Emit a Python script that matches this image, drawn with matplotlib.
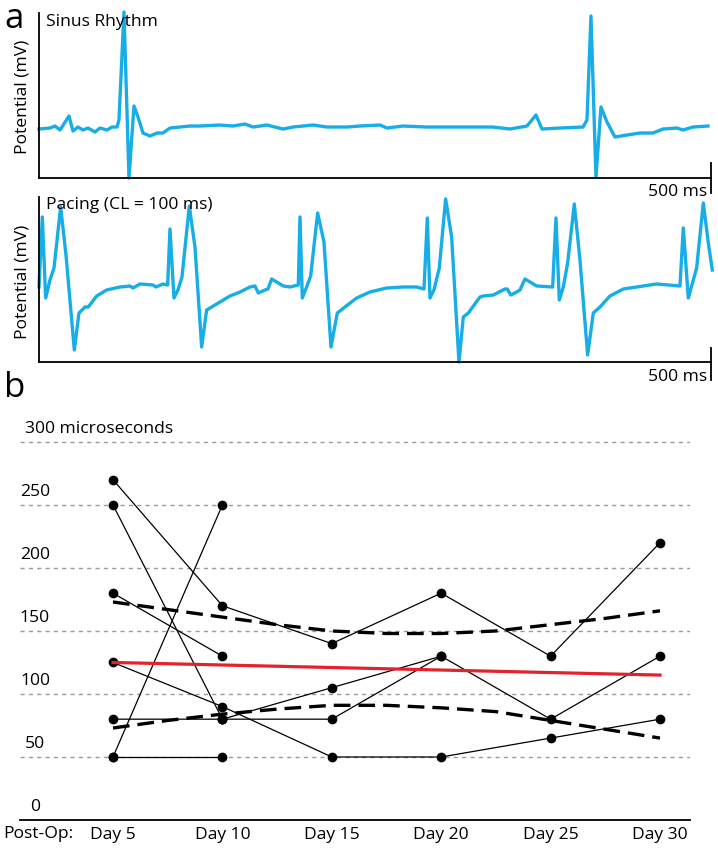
import matplotlib
matplotlib.use("Agg")
import matplotlib.pyplot as plt
import matplotlib.transforms as mtransforms

plt.rcParams['font.family'] = ['Open Sans', 'DejaVu Sans']
FS = 12.6

# ---- panel a: electrograms (time in ms, potential in mV)
sinus_t = [0, 33, 48, 63, 90, 102, 117, 132, 147, 168, 183, 204, 219, 234, 240, 255, 270, 285,
           297, 312, 333, 354, 372, 393, 423, 453, 483, 543, 582, 618, 642, 684, 732, 762, 822,
           864, 924, 963, 1023, 1044, 1092, 1164, 1224, 1293, 1362, 1413, 1464, 1491, 1509,
           1563, 1632, 1644, 1656, 1671, 1686, 1704, 1728, 1764, 1803, 1842, 1872, 1914, 1932,
           1962, 2007]
sinus_v = [0.49, 0.50, 0.52, 0.48, 0.62, 0.47, 0.51, 0.48, 0.50, 0.46, 0.50, 0.48, 0.51, 0.51,
           0.58, 1.66, 0.00, 0.72, 0.61, 0.45, 0.42, 0.45, 0.45, 0.50, 0.51, 0.52, 0.52, 0.53,
           0.52, 0.54, 0.51, 0.53, 0.49, 0.51, 0.53, 0.51, 0.51, 0.52, 0.53, 0.50, 0.52, 0.51,
           0.51, 0.51, 0.51, 0.49, 0.52, 0.63, 0.49, 0.50, 0.51, 0.58, 1.62, 0.01, 0.71, 0.56,
           0.41, 0.43, 0.45, 0.45, 0.49, 0.50, 0.48, 0.51, 0.52]

pacing_t = [0, 10, 20, 33, 45, 65, 81, 106, 120, 138, 148, 173, 203, 243, 273, 282, 303, 342,
            351, 372, 386, 393, 405, 417, 429, 451, 468, 488, 503, 518, 543, 573, 603, 633, 648,
            658, 678, 687, 698, 733, 753, 778, 783, 790, 803, 815, 836, 855, 876, 895, 918, 953,
            993, 1043, 1093, 1133, 1155, 1165, 1173, 1185, 1201, 1220, 1238, 1260, 1273, 1288,
            1323, 1333, 1363, 1398, 1405, 1415, 1428, 1443, 1458, 1493, 1541, 1551, 1561, 1573,
            1586, 1606, 1623, 1646, 1663, 1683, 1713, 1753, 1793, 1853, 1923, 1933, 1948, 1973,
            1993, 2008, 2020]
pacing_v = [0.75, 1.45, 0.64, 0.82, 0.94, 1.55, 1.07, 0.12, 0.49, 0.55, 0.55, 0.66, 0.72, 0.75,
            0.76, 0.74, 0.78, 0.77, 0.75, 0.78, 0.77, 1.33, 0.64, 0.72, 0.85, 1.56, 1.15, 0.15,
            0.52, 0.55, 0.60, 0.66, 0.70, 0.75, 0.76, 0.69, 0.72, 0.73, 0.83, 0.76, 0.75, 0.77,
            1.45, 0.64, 0.75, 0.86, 1.49, 1.20, 0.15, 0.49, 0.55, 0.64, 0.70, 0.74, 0.75, 0.75,
            0.73, 1.44, 0.64, 0.72, 0.94, 1.63, 1.25, 0.00, 0.45, 0.49, 0.65, 0.66, 0.67, 0.73,
            0.73, 0.67, 0.69, 0.72, 0.83, 0.76, 0.75, 1.44, 0.62, 0.75, 0.99, 1.58, 1.02, 0.07,
            0.49, 0.55, 0.66, 0.73, 0.75, 0.78, 0.76, 1.34, 0.64, 0.94, 1.59, 1.19, 0.92]

# ---- panel b: values per post-op day
days = [5, 10, 15, 20, 25, 30]
day_labels = ['Day 5', 'Day 10', 'Day 15', 'Day 20', 'Day 25', 'Day 30']
series = [
    ([5, 10, 15, 20, 25, 30], [270, 170, 140, 180, 130, 220]),
    ([5, 10], [250, 80]),
    ([5, 10], [50, 250]),
    ([5, 10], [180, 130]),
    ([5, 10, 15, 20, 25, 30], [125, 90, 50, 50, 65, 80]),
    ([5, 10, 15, 20, 25, 30], [80, 80, 80, 130, 80, 130]),
    ([10, 15, 20], [80, 105, 130]),
    ([5, 10], [50, 50]),
]
band_days = [5, 7.5, 10, 12.5, 15, 17.5, 20, 22.5, 25, 27.5, 30]
band_upper = [173, 167, 161, 155, 150, 148, 148, 150, 155, 160, 166]
band_lower = [73, 79, 84, 88, 91, 91, 89, 86, 79, 72, 65]
trend_days = [5, 30]
trend_vals = [125, 115]
grid_vals = [50, 100, 150, 200, 250, 300]
ylabels = ['0', '50', '100', '150', '200', '250', '300 microseconds']
ylabel_vals = [0, 50, 100, 150, 200, 250, 300]

blue = '#17ade6'
fig = plt.figure(figsize=(7.18, 8.49), dpi=100)


def trace_panel(rect, t, v, title, tick_lo, tick_hi, ms_y, ylab_y):
    ax = fig.add_axes(rect)
    ax.plot(t, v, color=blue, lw=2.4, clip_on=False, solid_joinstyle='round')
    ax.set_xlim(0, 2016)
    ax.set_ylim(0, 1.65)
    for s in ['top', 'right']:
        ax.spines[s].set_visible(False)
    for s in ['left', 'bottom']:
        ax.spines[s].set_linewidth(1.3)
    ax.set_xticks([])
    ax.set_yticks([])
    ax.plot([1, 1], [tick_lo, tick_hi], transform=ax.transAxes, color='black', lw=1.3,
            clip_on=False)
    ax.text(0.995, ms_y, '500 ms', transform=ax.transAxes, ha='right', va='center', fontsize=FS)
    ax.text(0.0105, title[1], title[0], transform=ax.transAxes, ha='left', va='center',
            fontsize=FS)
    fig.text(0.031, ylab_y, 'Potential (mV)', rotation=90, ha='center', va='center',
             fontsize=FS)
    return ax


trace_panel([0.0543, 0.7903, 0.9359, 0.1944], sinus_t, sinus_v, ('Sinus Rhythm', 0.945),
            0.091, -0.091, -0.082, 0.8857)
trace_panel([0.0543, 0.5736, 0.9359, 0.1944], pacing_t, pacing_v,
            ('Pacing (CL = 100 ms)', 0.952), 0.085, -0.109, -0.088, 0.668)

fig.text(0.006, 0.978, 'a', fontsize=25, ha='left', va='center')
fig.text(0.006, 0.543, 'b', fontsize=25, ha='left', va='center')

# panel b
ax = fig.add_axes([0.02786, 0.03416, 0.9331, 0.4594])
ax.set_xlim(0.75, 31.37)
ax.set_ylim(0, 309.5)
for g in grid_vals:
    ax.axhline(g, color='#9a9a9a', lw=1.0, linestyle=(0, (3, 3)), zorder=1)

ax.plot(band_days, band_upper, color='black', lw=2.4, linestyle=(0, (5, 2.4)), zorder=2)
ax.plot(band_days, band_lower, color='black', lw=2.4, linestyle=(0, (5, 2.4)), zorder=2)
for xs, ys in series:
    ax.plot(xs, ys, color='black', lw=0.9, marker='o', markersize=6, zorder=3)
ax.plot(trend_days, trend_vals, color='#e3222b', lw=2.3, zorder=4)

for s in ['top', 'right', 'left']:
    ax.spines[s].set_visible(False)
ax.spines['bottom'].set_linewidth(1.3)
ax.set_yticks([])
ax.set_xticks(days)
ax.set_xticklabels(day_labels, fontsize=FS)
ax.tick_params(axis='x', length=0, pad=5)

trans = mtransforms.blended_transform_factory(ax.transAxes, ax.transData)
for lab, val in zip(ylabels, ylabel_vals):
    if val == 300:
        ax.text(0.0075, val + 10, lab, transform=trans, ha='left', va='center', fontsize=FS)
    else:
        ax.text(0.0224, val + 10, lab, transform=trans, ha='center', va='center', fontsize=FS)
fig.text(0.004, 1 - 834 / 849, 'Post-Op:', ha='left', va='center', fontsize=FS)

fig.savefig('out.png', dpi=100)
